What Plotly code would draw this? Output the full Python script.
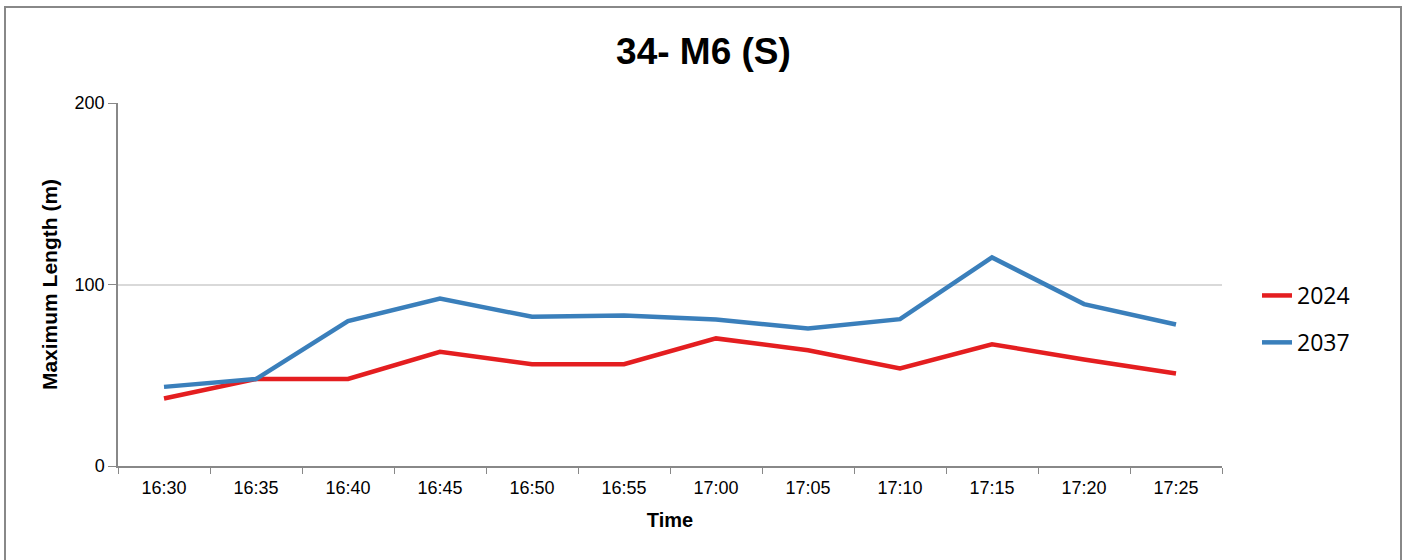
import plotly.graph_objects as go

times = ["16:30", "16:35", "16:40", "16:45", "16:50", "16:55",
         "17:00", "17:05", "17:10", "17:15", "17:20", "17:25"]
y2024 = [37.2, 47.9, 48.0, 62.9, 56.1, 56.1, 70.3, 63.8, 53.8, 67.1, 58.7, 51.0]
y2037 = [43.6, 47.9, 79.8, 92.3, 82.2, 82.9, 80.7, 75.8, 80.9, 114.9, 89.2, 78.0]

W, H = 1407, 560
L, R, T, B = 118, 185, 103, 94
pw, ph = W - L - R, H - T - B

def px_x(x):
    return (x - L) / pw

def px_y(y):
    return (H - B - y) / ph

fig = go.Figure()
fig.add_trace(go.Scatter(x=times, y=y2024, name="2024", mode="lines",
                         line=dict(color="#E41E20", width=4.5), legendgroup="a"))
fig.add_trace(go.Scatter(x=times, y=y2037, name="2037", mode="lines",
                         line=dict(color="#3A7FBB", width=4.5), legendgroup="b"))

fig.update_layout(
    width=W, height=H,
    margin=dict(l=L, r=R, t=T, b=B, autoexpand=False),
    paper_bgcolor="white", plot_bgcolor="white",
    font=dict(family="Liberation Sans, Arial, sans-serif", color="black"),
    title=dict(text="<b>34- M6 (S)</b>", x=0.5, xref="container", xanchor="center",
               y=1 - 51 / H, yref="container", yanchor="middle",
               font=dict(size=37, family="Liberation Sans, Arial, sans-serif")),
    showlegend=True,
    legend=dict(x=px_x(1257), xanchor="left", y=px_y(319), yanchor="middle",
                font=dict(size=23, family="Open Sans, sans-serif"),
                traceorder="grouped", tracegroupgap=14, bgcolor="rgba(0,0,0,0)"),
    xaxis=dict(
        type="category", range=[-0.5, 11.5], automargin=False,
        showgrid=False, showline=True, linecolor="#888888", linewidth=1.5,
        ticks="outside", tickson="boundaries", ticklen=6, tickcolor="#888888",
        tickfont=dict(size=18), ticklabelstandoff=5,
        title=dict(text="<b>Time</b>", font=dict(size=20), standoff=16),
    ),
    yaxis=dict(
        range=[0, 200], tickvals=[0, 100, 200], automargin=False,
        showgrid=True, gridcolor="#D9D9D9",
        gridwidth=1.5, showline=True, linecolor="#888888", linewidth=1.5,
        ticks="outside", ticklen=8, tickcolor="#888888", tickfont=dict(size=18),
        zeroline=False,
        title=dict(text="<b>Maximum Length (m)</b>", font=dict(size=21), standoff=11),
    ),
    shapes=[dict(type="rect", xref="paper", yref="paper",
                 x0=px_x(5), x1=px_x(1401), y0=px_y(565), y1=px_y(7),
                 line=dict(color="#888888", width=2), fillcolor="rgba(0,0,0,0)",
                 layer="below")],
)

fig.write_html("out.html", config={"displayModeBar": False},
               post_script="document.body.style.margin='0';")
